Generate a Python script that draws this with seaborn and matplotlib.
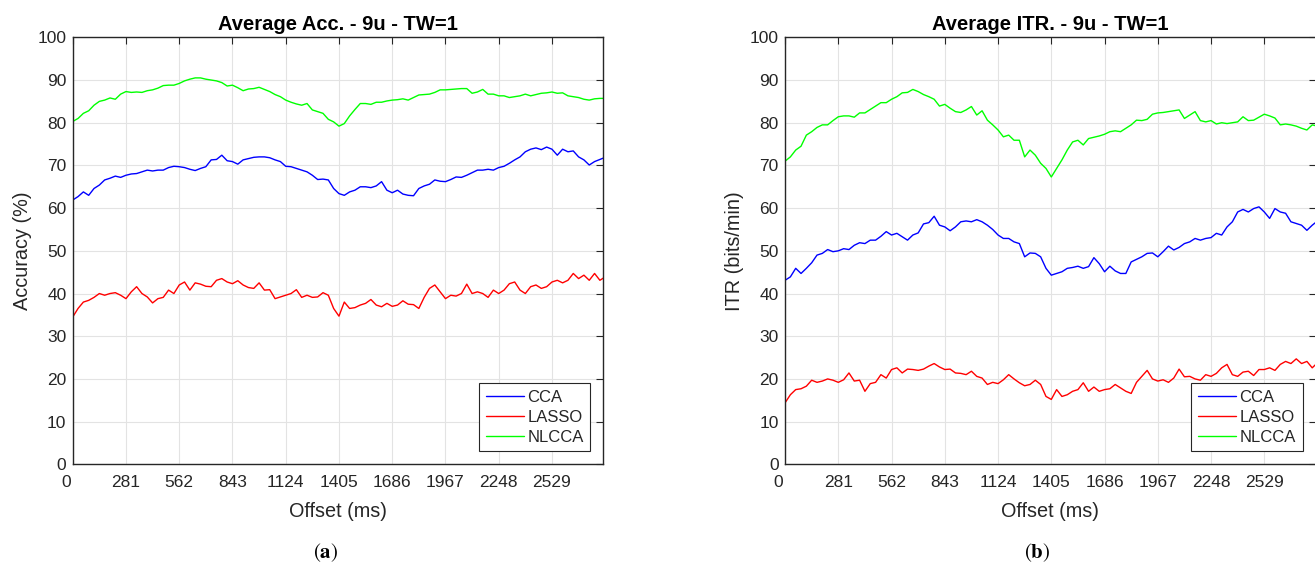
import numpy as np
import pandas as pd
import matplotlib
matplotlib.use("Agg")
import matplotlib.pyplot as plt
import matplotlib.transforms as mtransforms
import seaborn as sns

# Sampling step of the offset axis (ms)
offset_step = 28.1

methods = ["CCA", "LASSO", "NLCCA"]

# Average accuracy (%) per offset
acc_cca = [61.9, 62.7, 63.8, 63.0, 64.6, 65.4, 66.6, 67.0, 67.5, 67.2, 67.7,
           68.0, 68.1, 68.5, 68.9, 68.7, 68.9, 68.9, 69.5, 69.8, 69.7,
           69.5, 69.1, 68.8, 69.3, 69.7, 71.3, 71.4, 72.4, 71.1, 70.9,
           70.3, 71.3, 71.6, 71.9, 72.0, 72.0, 71.8, 71.3, 70.9, 69.8,
           69.7, 69.3, 68.9, 68.5, 67.7, 66.7, 66.8, 66.6, 64.6, 63.4,
           63.0, 63.8, 64.2, 65.0, 65.0, 64.8, 65.2, 66.2, 64.2, 63.6,
           64.2, 63.3, 63.0, 62.9, 64.6, 65.2, 65.6, 66.6, 66.3, 66.2,
           66.7, 67.3, 67.2, 67.7, 68.3, 68.9, 68.9, 69.1, 68.9, 69.5,
           69.8, 70.5, 71.3, 72.0, 73.2, 73.8, 74.1, 73.7, 74.3, 73.8,
           72.4, 73.8, 73.2, 73.4, 72.0, 71.3, 70.1, 70.9, 71.4, 71.9]

acc_lasso = [34.5, 36.5, 38.0, 38.4, 39.1, 40.0, 39.6, 40.0, 40.2, 39.6, 38.8,
             40.4, 41.6, 40.0, 39.2, 37.8, 38.8, 39.1, 40.8, 40.0, 42.0,
             42.7, 40.8, 42.5, 42.2, 41.7, 41.6, 43.1, 43.5, 42.7, 42.3,
             43.0, 42.0, 41.4, 41.2, 42.5, 40.8, 40.9, 38.8, 39.2, 39.6,
             40.0, 40.9, 39.1, 39.6, 39.1, 39.2, 40.2, 39.6, 36.5, 34.7,
             38.0, 36.5, 36.7, 37.3, 37.7, 38.6, 37.3, 36.9, 37.7, 37.0,
             37.3, 38.3, 37.5, 37.4, 36.5, 39.1, 41.2, 42.0, 40.4, 38.8,
             39.6, 39.4, 40.0, 42.2, 40.0, 40.4, 40.0, 39.1, 40.8, 40.0,
             40.8, 42.3, 42.7, 40.8, 40.0, 41.6, 42.0, 41.2, 41.6, 42.7,
             43.1, 42.5, 43.1, 44.7, 43.5, 44.3, 43.1, 44.7, 43.1, 43.9]

acc_nlcca = [80.3, 81.0, 82.2, 82.8, 84.1, 85.0, 85.3, 85.8, 85.5, 86.7, 87.3,
             87.1, 87.2, 87.1, 87.5, 87.7, 88.1, 88.7, 88.8, 88.8, 89.2,
             89.8, 90.2, 90.5, 90.5, 90.2, 90.0, 89.8, 89.4, 88.6, 88.8,
             88.2, 87.5, 87.9, 88.0, 88.3, 87.8, 87.3, 86.6, 86.1, 85.3,
             84.8, 84.4, 84.1, 84.5, 83.0, 82.6, 82.2, 80.8, 80.2, 79.2,
             79.8, 81.6, 83.1, 84.5, 84.5, 84.3, 84.8, 84.8, 85.1, 85.3,
             85.4, 85.6, 85.3, 85.9, 86.5, 86.6, 86.7, 87.1, 87.7, 87.7,
             87.8, 87.9, 88.0, 88.0, 86.9, 87.2, 87.8, 86.7, 86.7, 86.3,
             86.3, 85.9, 86.1, 86.3, 86.7, 86.3, 86.6, 86.9, 87.0, 87.2,
             86.9, 87.0, 86.3, 86.1, 85.9, 85.5, 85.3, 85.6, 85.7, 85.7]

# Average ITR (bits/min) per offset
itr_cca = [43.1, 43.9, 45.9, 44.7, 45.9, 47.2, 49.0, 49.4, 50.3, 49.8, 50.0,
           50.5, 50.3, 51.3, 51.9, 51.7, 52.5, 52.5, 53.4, 54.5, 53.7,
           54.1, 53.3, 52.5, 53.7, 54.2, 56.3, 56.6, 58.1, 56.0, 55.6,
           54.7, 55.6, 56.8, 57.0, 56.8, 57.3, 56.8, 56.0, 55.0, 53.7,
           52.9, 52.9, 52.1, 51.7, 48.6, 49.5, 49.4, 48.6, 45.9, 44.3,
           44.7, 45.1, 45.9, 46.1, 46.4, 45.9, 46.3, 48.4, 47.0, 45.1,
           46.4, 45.3, 44.7, 44.7, 47.4, 48.0, 48.6, 49.4, 49.5, 48.6,
           49.8, 51.1, 50.2, 50.8, 51.7, 52.1, 52.9, 52.5, 52.9, 53.1,
           54.1, 53.7, 55.6, 56.8, 59.1, 59.7, 59.1, 59.9, 60.3, 59.1,
           57.6, 59.9, 59.1, 58.8, 56.8, 56.4, 56.0, 54.8, 56.0, 57.0]

itr_lasso = [14.4, 16.3, 17.5, 17.7, 18.3, 19.7, 19.2, 19.5, 20.0, 19.7, 19.2,
             19.8, 21.4, 19.5, 19.7, 17.1, 18.9, 19.2, 21.0, 20.2, 22.2,
             22.6, 21.4, 22.3, 22.2, 22.0, 22.3, 23.0, 23.6, 22.8, 22.2,
             22.3, 21.4, 21.3, 21.0, 21.8, 20.6, 20.2, 18.7, 19.2, 18.9,
             19.8, 21.0, 20.0, 19.1, 18.4, 18.7, 19.7, 18.7, 15.9, 15.2,
             17.5, 15.9, 16.3, 17.1, 17.5, 19.1, 17.1, 18.1, 17.1, 17.5,
             17.7, 18.7, 17.9, 17.1, 16.6, 19.2, 20.6, 22.0, 20.0, 19.5,
             19.8, 19.2, 20.2, 22.3, 20.5, 20.6, 20.0, 19.7, 21.0, 20.6,
             21.3, 22.6, 23.4, 21.0, 20.6, 21.6, 21.8, 20.8, 22.2, 22.2,
             22.6, 22.0, 23.4, 24.1, 23.6, 24.7, 23.6, 24.1, 22.6, 23.8]

itr_nlcca = [71.0, 72.0, 73.6, 74.5, 77.1, 77.9, 78.9, 79.5, 79.5, 80.5, 81.4,
             81.6, 81.6, 81.3, 82.3, 82.3, 83.1, 83.9, 84.7, 84.7, 85.5,
             86.1, 87.0, 87.1, 87.8, 87.3, 86.6, 86.1, 85.5, 83.9, 84.3,
             83.4, 82.6, 82.4, 83.0, 83.8, 81.8, 82.8, 80.6, 79.5, 78.3,
             76.7, 77.1, 75.9, 75.9, 72.0, 73.6, 72.4, 70.5, 69.3, 67.3,
             69.3, 71.3, 73.6, 75.5, 75.9, 74.8, 76.3, 76.6, 76.9, 77.3,
             77.9, 78.1, 77.9, 78.7, 79.5, 80.6, 80.5, 80.8, 82.0, 82.3,
             82.4, 82.6, 82.8, 83.0, 81.0, 81.8, 82.6, 80.5, 80.2, 80.5,
             79.7, 80.0, 79.8, 80.0, 80.2, 81.4, 80.5, 80.6, 81.3, 82.0,
             81.6, 81.1, 79.5, 79.7, 79.5, 79.2, 78.7, 78.3, 79.5, 79.2]

x_ticks = [0, 281, 562, 843, 1124, 1405, 1686, 1967, 2248, 2529]
y_ticks = [0, 10, 20, 30, 40, 50, 60, 70, 80, 90, 100]

titles = ["Average Acc. - 9u - TW=1", "Average ITR. - 9u - TW=1"]
y_labels = ["Accuracy (%)", "ITR (bits/min)"]
captions = ["a", "b"]

palette = {"CCA": "#0000ff", "LASSO": "#ff0000", "NLCCA": "#00ff00"}


def long_frame(series):
    frames = []
    for name, values in zip(methods, series):
        frames.append(pd.DataFrame({
            "Offset": np.arange(len(values)) * offset_step,
            "Value": values,
            "Method": name,
        }))
    return pd.concat(frames, ignore_index=True)


panels = [long_frame([acc_cca, acc_lasso, acc_nlcca]),
          long_frame([itr_cca, itr_lasso, itr_nlcca])]

sns.set_theme(style="whitegrid")
plt.rcParams["font.family"] = ["Liberation Sans", "DejaVu Sans"]
plt.rcParams["mathtext.fontset"] = "stix"

ink = "#262626"
fig = plt.figure(figsize=(13.15, 5.70), dpi=100)
fig.patch.set_facecolor("white")

axes_rects = [[0.0553, 0.1854, 0.4035, 0.7491],
              [0.5970, 0.1854, 0.4035, 0.7491]]
caption_x = [326 / 1315, 1037 / 1315]

for rect, data, title, ylab, cap, cx in zip(axes_rects, panels, titles,
                                            y_labels, captions, caption_x):
    ax = fig.add_axes(rect)
    sns.lineplot(data=data, x="Offset", y="Value", hue="Method",
                 hue_order=methods, palette=palette, linewidth=1.0,
                 ax=ax, legend=False)
    ax.set_xlim(0, 2800)
    ax.set_ylim(0, 100)
    ax.set_xticks(x_ticks)
    ax.set_yticks(y_ticks)
    ax.grid(True, color="#e3e3e3", linewidth=0.8)
    ax.set_axisbelow(True)
    for sp in ax.spines.values():
        sp.set_visible(True)
        sp.set_color(ink)
        sp.set_linewidth(1.0)
    ax.tick_params(direction="in", top=True, right=True, length=5,
                   width=0.8, color=ink, labelcolor=ink, labelsize=12.5)
    ax.tick_params(axis="x", pad=7.5)
    ax.tick_params(axis="y", pad=4.5)
    # the first offset label sits flush with the value axis labels
    first = ax.get_xticklabels()[0]
    first.set_transform(first.get_transform() +
                        mtransforms.ScaledTranslation(-7 / 100, 0, fig.dpi_scale_trans))
    ax.set_title(title, fontsize=14.5, fontweight="bold", color="black", pad=5)
    ax.set_xlabel("Offset (ms)", fontsize=14.3, color=ink, labelpad=9)
    ax.set_ylabel(ylab, fontsize=14.3, color=ink, labelpad=4)

    handles = [plt.Line2D([], [], color=palette[m], linewidth=1.0) for m in methods]
    leg = ax.legend(handles, methods, loc="lower right", fontsize=12,
                    frameon=True, fancybox=False, framealpha=1.0,
                    edgecolor=ink, handlelength=2.3, handletextpad=0.2,
                    labelspacing=0.3, borderpad=0.4, borderaxespad=0.78)
    leg.get_frame().set_linewidth(0.8)

    fig.text(cx, (570 - 553) / 570, r"$(\mathbf{%s})$" % cap,
             ha="center", va="center", fontsize=15, color="black")

fig.savefig("out.png", dpi=100)
